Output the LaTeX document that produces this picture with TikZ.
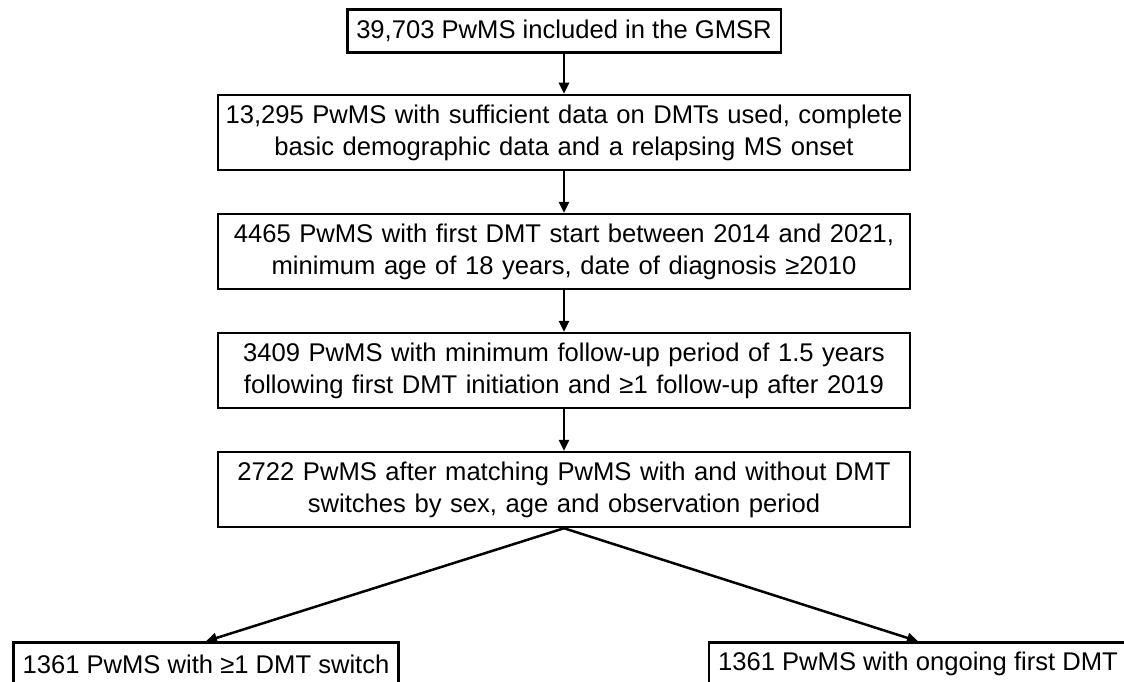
\documentclass[tikz,border=0pt]{standalone}
\usepackage{fontspec}
\setmainfont{Liberation Sans}
\usetikzlibrary{arrows.meta, positioning}

\begin{document}
\begin{tikzpicture}[
    node distance=41.5pt,
    frame/.style={rectangle, draw=black, line width=2.5pt, fill=white,
                  inner xsep=9pt, font=\fontsize{25.6}{32}\selectfont},
    box/.style={frame, text width=678pt, inner xsep=7pt, minimum height=75pt, align=center},
    onebox/.style={frame, minimum height=43pt},
    arrow/.style={-{Triangle[length=11pt, width=10pt]}, line width=2.5pt}
]
\path[use as bounding box, clip] (0,0) rectangle (1124pt,-682pt);
\node[onebox] (gmsr) at (564pt,-31pt) {39,703 PwMS included in the GMSR};
\node[box, below=40pt of gmsr] (dmtdata) {13,295 PwMS with sufficient data on DMTs used, complete\\ basic demographic data and a relapsing MS onset};
\node[box, below=of dmtdata] (firstdmt) {4465 PwMS with first DMT start between 2014 and 2021,\\ minimum age of 18 years, date of diagnosis ≥2010};
\node[box, below=of firstdmt] (followup) {3409 PwMS with minimum follow-up period of 1.5 years\\ following first DMT initiation and ≥1 follow-up after 2019};
\node[box, below=of followup] (matched) {2722 PwMS after matching PwMS with and without DMT\\ switches by sex, age and observation period};
\node[onebox, anchor=north] (switch) at ([xshift=-358pt, yshift=-113pt]matched.south) {1361 PwMS with ≥1 DMT switch};
\node[onebox, anchor=north] (ongoing) at ([xshift=354pt, yshift=-113pt]matched.south) {1361 PwMS with ongoing first DMT};
\draw[arrow] (gmsr) -- (dmtdata);
\draw[arrow] (dmtdata) -- (firstdmt);
\draw[arrow] (firstdmt) -- (followup);
\draw[arrow] (followup) -- (matched);
\draw[arrow] (matched.south) -- (switch.north);
\draw[arrow] (matched.south) -- (ongoing.north);
\end{tikzpicture}
\end{document}
